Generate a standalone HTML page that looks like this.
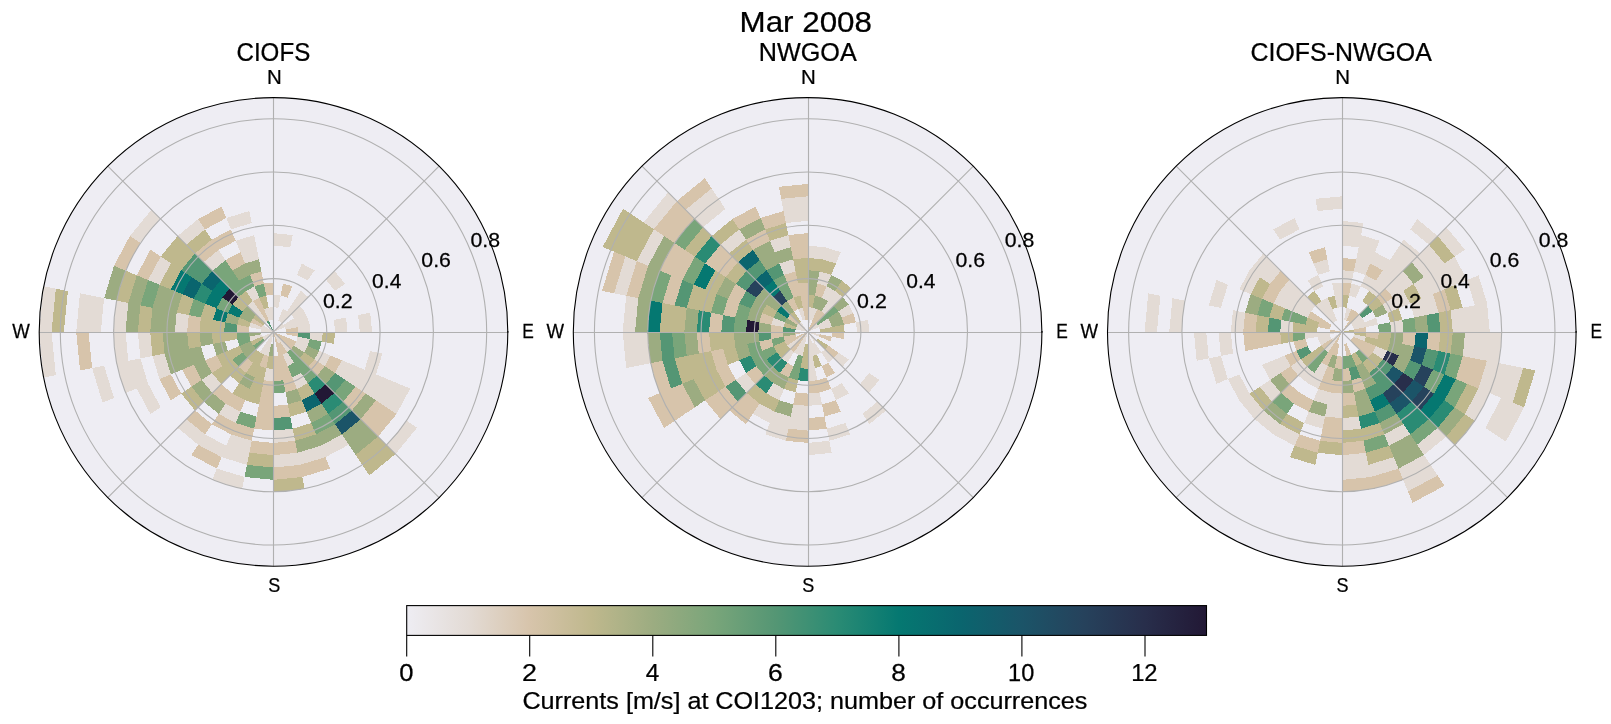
<!DOCTYPE html><html><head><meta charset="utf-8"><title>Mar 2008</title>
<style>html,body{margin:0;padding:0;background:#fff}body{width:1611px;height:724px;overflow:hidden;position:relative;font-family:"Liberation Sans",sans-serif}svg{position:absolute;left:0;top:0}text{font-family:"Liberation Sans",sans-serif;fill:#000;stroke:#000;stroke-width:0.25px;will-change:transform}</style></head><body>
<svg width="1611" height="724" viewBox="0 0 1611 724">
<rect width="1611" height="724" fill="#fff"/>
<clipPath id="c0"><circle cx="273.5" cy="331.9" r="234.3"/></clipPath>
<circle cx="273.5" cy="331.9" r="234.3" fill="#eeedf3"/>
<g clip-path="url(#c0)" shape-rendering="crispEdges">
<path fill="#e3dbd5" d="M273.5 307.2L273.5 294.9L280.7 295.6L278.3 307.7ZM273.5 245.6L273.5 233.2L292.7 235.1L290.3 247.2ZM278.2 320.5L282.9 309.1L287.2 311.4L280.3 321.6ZM297.1 274.9L301.8 263.5L314.6 270.4L307.7 280.6ZM280.3 321.6L287.2 311.4L290.9 314.5L282.2 323.2ZM287.2 311.4L294.0 301.1L299.6 305.7L290.9 314.5ZM294.0 301.1L300.9 290.9L308.3 297.0L299.6 305.7ZM282.2 323.2L283.7 325.0L273.5 331.9ZM290.9 314.5L299.6 305.7L304.2 311.3L294.0 318.2ZM325.8 279.6L334.5 270.9L345.2 283.9L335.0 290.8ZM283.7 325.0L284.9 327.2L273.5 331.9ZM283.7 325.0L294.0 318.2L296.3 322.5L284.9 327.2ZM294.0 318.2L304.2 311.3L307.6 317.7L296.3 322.5ZM284.9 327.2L296.3 322.5L297.7 327.1L285.6 329.5ZM296.3 322.5L307.6 317.7L309.8 324.7L297.7 327.1ZM297.7 327.1L309.8 324.7L310.5 331.9L298.1 331.9ZM333.9 319.9L346.0 317.5L347.5 331.9L335.1 331.9ZM358.1 315.1L370.2 312.7L372.1 331.9L359.8 331.9ZM310.5 331.9L322.8 331.9L321.8 341.5L309.8 339.1ZM297.7 336.7L309.8 339.1L307.6 346.1L296.3 341.3ZM370.2 351.1L382.3 353.6L376.0 374.4L364.6 369.7ZM296.3 341.3L307.6 346.1L304.2 352.5L294.0 345.6ZM319.0 350.8L330.4 355.5L324.7 366.2L314.5 359.3ZM341.8 360.2L353.2 364.9L345.2 379.9L335.0 373.0ZM353.2 364.9L364.6 369.7L355.5 386.7L345.2 379.9ZM364.6 369.7L376.0 374.4L365.7 393.6L355.5 386.7ZM376.0 374.4L387.4 379.1L376.0 400.4L365.7 393.6ZM387.4 379.1L398.8 383.8L386.3 407.3L376.0 400.4ZM398.8 383.8L410.2 388.5L396.5 414.1L386.3 407.3ZM406.8 421.0L417.0 427.8L395.5 454.0L386.8 445.3ZM282.2 340.6L280.3 342.2L273.5 331.9ZM282.2 340.6L290.9 349.3L287.2 352.4L280.3 342.2ZM280.3 342.2L278.2 343.3L273.5 331.9ZM287.2 352.4L294.0 362.7L287.6 366.1L282.9 354.7ZM300.9 372.9L307.7 383.2L297.1 388.9L292.3 377.5ZM342.0 434.4L348.8 444.7L325.4 457.2L320.7 445.8ZM320.7 445.8L325.4 457.2L299.9 464.9L297.5 452.8ZM292.7 428.7L295.1 440.8L273.5 442.9L273.5 430.6ZM297.5 452.8L299.9 464.9L273.5 467.5L273.5 455.2ZM273.5 368.9L273.5 381.2L263.8 380.3L266.3 368.2ZM271.1 344.0L268.8 343.3L273.5 331.9ZM271.1 344.0L268.7 356.1L264.0 354.7L268.8 343.3ZM251.8 440.8L249.4 452.8L226.3 445.8L231.0 434.4ZM249.4 452.8L247.0 464.9L221.6 457.2L226.3 445.8ZM244.6 477.0L242.2 489.1L212.1 480.0L216.8 468.6ZM268.8 343.3L266.6 342.2L273.5 331.9ZM268.8 343.3L264.0 354.7L259.8 352.4L266.6 342.2ZM240.4 411.7L235.7 423.0L218.7 413.9L225.5 403.7ZM226.3 445.8L221.6 457.2L198.1 444.7L205.0 434.4ZM205.0 434.4L198.1 444.7L177.6 427.8L186.3 419.1ZM264.8 340.6L263.2 338.8L273.5 331.9ZM221.2 384.2L212.4 392.9L201.7 379.9L212.0 373.0ZM263.2 338.8L262.1 336.6L273.5 331.9ZM160.7 407.3L150.4 414.1L136.8 388.5L148.1 383.8ZM262.1 336.6L250.7 341.3L249.3 336.7L261.4 334.3ZM170.9 374.4L159.5 379.1L152.5 356.0L164.6 353.6ZM148.1 383.8L136.8 388.5L128.3 360.8L140.4 358.4ZM136.8 388.5L125.4 393.2L116.2 363.2L128.3 360.8ZM114.0 398.0L102.6 402.7L92.1 368.0L104.1 365.6ZM152.5 356.0L140.4 358.4L137.8 331.9L150.2 331.9ZM128.3 360.8L116.2 363.2L113.2 331.9L125.5 331.9ZM55.8 375.2L43.7 377.6L39.2 331.9L51.5 331.9ZM261.1 331.9L261.4 329.5L273.5 331.9ZM187.1 331.9L174.8 331.9L176.7 312.7L188.8 315.1ZM125.5 331.9L113.2 331.9L116.2 300.6L128.3 303.0ZM100.8 331.9L88.5 331.9L92.1 295.8L104.1 298.2ZM88.5 331.9L76.2 331.9L80.0 293.4L92.1 295.8ZM51.5 331.9L39.2 331.9L43.7 286.2L55.8 288.6ZM261.4 329.5L262.1 327.2L273.5 331.9ZM261.4 329.5L249.3 327.1L250.7 322.5L262.1 327.2ZM262.1 327.2L263.2 325.0L273.5 331.9ZM159.5 284.7L148.1 280.0L160.7 256.5L170.9 263.4ZM140.2 242.8L129.9 236.0L151.4 209.8L160.1 218.5ZM264.8 323.2L256.0 314.5L259.8 311.4L266.6 321.6ZM256.0 314.5L247.3 305.7L252.9 301.1L259.8 311.4ZM212.4 270.9L203.7 262.1L218.7 249.9L225.5 260.1ZM186.3 244.7L177.6 236.0L198.1 219.1L205.0 229.4ZM252.9 301.1L246.1 290.9L254.6 286.3L259.3 297.7ZM268.8 320.5L264.0 309.1L268.7 307.7L271.1 319.8ZM245.2 263.5L240.4 252.1L256.6 247.2L259.0 259.3ZM240.4 252.1L235.7 240.8L254.2 235.1L256.6 247.2ZM231.0 229.4L226.3 218.0L249.4 211.0L251.8 223.0ZM271.1 319.8L268.7 307.7L273.5 307.2L273.5 319.6Z"/>
<path fill="#d7c4ab" d="M280.7 295.6L283.1 283.5L292.3 286.3L287.6 297.7ZM285.6 329.5L297.7 327.1L298.1 331.9L285.8 331.9ZM285.8 331.9L298.1 331.9L297.7 336.7L285.6 334.3ZM284.9 336.6L283.7 338.8L273.5 331.9ZM284.9 336.6L296.3 341.3L294.0 345.6L283.7 338.8ZM330.4 355.5L341.8 360.2L335.0 373.0L324.7 366.2ZM283.7 338.8L282.2 340.6L273.5 331.9ZM283.7 338.8L294.0 345.6L290.9 349.3L282.2 340.6ZM314.5 359.3L324.7 366.2L317.1 375.5L308.3 366.8ZM355.5 386.7L365.7 393.6L351.9 410.4L343.2 401.7ZM376.0 400.4L386.3 407.3L369.4 427.8L360.7 419.1ZM386.3 407.3L396.5 414.1L378.1 436.5L369.4 427.8ZM280.3 342.2L287.2 352.4L282.9 354.7L278.2 343.3ZM278.2 343.3L275.9 344.0L273.5 331.9ZM278.2 343.3L282.9 354.7L278.3 356.1L275.9 344.0ZM282.9 354.7L287.6 366.1L280.7 368.2L278.3 356.1ZM287.6 366.1L292.3 377.5L283.1 380.3L280.7 368.2ZM292.3 377.5L297.1 388.9L285.5 392.4L283.1 380.3ZM325.4 457.2L330.1 468.6L302.3 477.0L299.9 464.9ZM278.3 356.1L280.7 368.2L273.5 368.9L273.5 356.6ZM280.7 368.2L283.1 380.3L273.5 381.2L273.5 368.9ZM287.9 404.5L290.3 416.6L273.5 418.2L273.5 405.9ZM295.1 440.8L297.5 452.8L273.5 455.2L273.5 442.9ZM299.9 464.9L302.3 477.0L273.5 479.9L273.5 467.5ZM273.5 381.2L273.5 393.6L261.4 392.4L263.8 380.3ZM273.5 393.6L273.5 405.9L259.0 404.5L261.4 392.4ZM273.5 405.9L273.5 418.2L256.6 416.6L259.0 404.5ZM273.5 418.2L273.5 430.6L254.2 428.7L256.6 416.6ZM273.5 442.9L273.5 455.2L249.4 452.8L251.8 440.8ZM268.7 356.1L266.3 368.2L259.3 366.1L264.0 354.7ZM254.2 428.7L251.8 440.8L231.0 434.4L235.7 423.0ZM245.2 400.3L240.4 411.7L225.5 403.7L232.4 393.4ZM235.7 423.0L231.0 434.4L211.8 424.2L218.7 413.9ZM221.6 457.2L216.8 468.6L191.3 454.9L198.1 444.7ZM252.9 362.7L246.1 372.9L238.6 366.8L247.3 358.1ZM232.4 393.4L225.5 403.7L212.4 392.9L221.2 384.2ZM211.8 424.2L205.0 434.4L186.3 419.1L195.0 410.4ZM222.2 366.2L212.0 373.0L205.1 360.2L216.5 355.5ZM201.7 379.9L191.4 386.7L182.3 369.7L193.7 364.9ZM181.2 393.6L170.9 400.4L159.5 379.1L170.9 374.4ZM92.1 368.0L80.0 370.4L76.2 331.9L88.5 331.9ZM248.8 331.9L236.5 331.9L237.2 324.7L249.3 327.1ZM199.5 331.9L187.1 331.9L188.8 315.1L200.9 317.5ZM262.1 327.2L250.7 322.5L253.0 318.2L263.2 325.0ZM148.1 280.0L136.8 275.3L150.4 249.7L160.7 256.5ZM125.4 270.6L114.0 265.8L129.9 236.0L140.2 242.8ZM203.7 262.1L195.0 253.4L211.8 239.6L218.7 249.9ZM266.6 321.6L259.8 311.4L264.0 309.1L268.8 320.5ZM259.8 311.4L252.9 301.1L259.3 297.7L264.0 309.1ZM232.4 270.4L225.5 260.1L240.4 252.1L245.2 263.5ZM218.7 249.9L211.8 239.6L231.0 229.4L235.7 240.8ZM205.0 229.4L198.1 219.1L221.6 206.6L226.3 218.0ZM254.6 286.3L249.9 274.9L261.4 271.4L263.8 283.5ZM266.3 295.6L263.8 283.5L273.5 282.6L273.5 294.9Z"/>
<path fill="#bfb88d" d="M322.8 331.9L335.1 331.9L333.9 343.9L321.8 341.5ZM304.2 352.5L314.5 359.3L308.3 366.8L299.6 358.1ZM378.1 436.5L386.8 445.3L362.5 465.2L355.7 454.9ZM386.8 445.3L395.5 454.0L369.4 475.4L362.5 465.2ZM307.7 383.2L314.6 393.4L301.8 400.3L297.1 388.9ZM301.8 400.3L306.5 411.7L290.3 416.6L287.9 404.5ZM311.2 423.0L315.9 434.4L295.1 440.8L292.7 428.7ZM302.3 477.0L304.7 489.1L273.5 492.2L273.5 479.9ZM273.5 356.6L273.5 368.9L266.3 368.2L268.7 356.1ZM273.5 455.2L273.5 467.5L247.0 464.9L249.4 452.8ZM266.3 368.2L263.8 380.3L254.6 377.5L259.3 366.1ZM263.8 380.3L261.4 392.4L249.9 388.9L254.6 377.5ZM261.4 392.4L259.0 404.5L245.2 400.3L249.9 388.9ZM264.0 354.7L259.3 366.1L252.9 362.7L259.8 352.4ZM259.3 366.1L254.6 377.5L246.1 372.9L252.9 362.7ZM249.9 388.9L245.2 400.3L232.4 393.4L239.2 383.2ZM259.8 352.4L252.9 362.7L247.3 358.1L256.0 349.3ZM246.1 372.9L239.2 383.2L229.9 375.5L238.6 366.8ZM238.6 366.8L229.9 375.5L222.2 366.2L232.5 359.3ZM229.9 375.5L221.2 384.2L212.0 373.0L222.2 366.2ZM203.7 401.7L195.0 410.4L181.2 393.6L191.4 386.7ZM263.2 338.8L253.0 345.6L250.7 341.3L262.1 336.6ZM242.7 352.5L232.5 359.3L227.9 350.8L239.3 346.1ZM232.5 359.3L222.2 366.2L216.5 355.5L227.9 350.8ZM237.2 339.1L225.1 341.5L224.1 331.9L236.5 331.9ZM225.1 341.5L213.0 343.9L211.8 331.9L224.1 331.9ZM200.9 346.3L188.8 348.7L187.1 331.9L199.5 331.9ZM164.6 353.6L152.5 356.0L150.2 331.9L162.5 331.9ZM224.1 331.9L211.8 331.9L213.0 319.9L225.1 322.3ZM211.8 331.9L199.5 331.9L200.9 317.5L213.0 319.9ZM150.2 331.9L137.8 331.9L140.4 305.4L152.5 307.8ZM63.8 331.9L51.5 331.9L55.8 288.6L67.9 291.0ZM249.3 327.1L237.2 324.7L239.3 317.7L250.7 322.5ZM213.0 319.9L200.9 317.5L205.1 303.6L216.5 308.3ZM188.8 315.1L176.7 312.7L182.3 294.1L193.7 298.9ZM128.3 303.0L116.2 300.6L125.4 270.6L136.8 275.3ZM170.9 289.4L159.5 284.7L170.9 263.4L181.2 270.2ZM263.2 325.0L253.0 318.2L256.0 314.5L264.8 323.2ZM242.7 311.3L232.5 304.5L238.6 297.0L247.3 305.7ZM181.2 270.2L170.9 263.4L186.3 244.7L195.0 253.4ZM170.9 263.4L160.7 256.5L177.6 236.0L186.3 244.7ZM247.3 305.7L238.6 297.0L246.1 290.9L252.9 301.1ZM195.0 253.4L186.3 244.7L205.0 229.4L211.8 239.6ZM264.0 309.1L259.3 297.7L266.3 295.6L268.7 307.7Z"/>
<path fill="#9cac81" d="M307.6 346.1L319.0 350.8L314.5 359.3L304.2 352.5ZM294.0 345.6L304.2 352.5L299.6 358.1L290.9 349.3ZM324.7 366.2L335.0 373.0L325.8 384.2L317.1 375.5ZM365.7 393.6L376.0 400.4L360.7 419.1L351.9 410.4ZM360.7 419.1L369.4 427.8L348.8 444.7L342.0 434.4ZM369.4 427.8L378.1 436.5L355.7 454.9L348.8 444.7ZM321.4 403.7L328.3 413.9L311.2 423.0L306.5 411.7ZM335.1 424.2L342.0 434.4L320.7 445.8L315.9 434.4ZM297.1 388.9L301.8 400.3L287.9 404.5L285.5 392.4ZM315.9 434.4L320.7 445.8L297.5 452.8L295.1 440.8ZM273.5 344.2L273.5 356.6L268.7 356.1L271.1 344.0ZM254.6 377.5L249.9 388.9L239.2 383.2L246.1 372.9ZM225.5 403.7L218.7 413.9L203.7 401.7L212.4 392.9ZM256.0 349.3L247.3 358.1L242.7 352.5L253.0 345.6ZM212.4 392.9L203.7 401.7L191.4 386.7L201.7 379.9ZM253.0 345.6L242.7 352.5L239.3 346.1L250.7 341.3ZM212.0 373.0L201.7 379.9L193.7 364.9L205.1 360.2ZM227.9 350.8L216.5 355.5L213.0 343.9L225.1 341.5ZM205.1 360.2L193.7 364.9L188.8 348.7L200.9 346.3ZM193.7 364.9L182.3 369.7L176.7 351.1L188.8 348.7ZM182.3 369.7L170.9 374.4L164.6 353.6L176.7 351.1ZM261.4 334.3L249.3 336.7L248.8 331.9L261.1 331.9ZM213.0 343.9L200.9 346.3L199.5 331.9L211.8 331.9ZM188.8 348.7L176.7 351.1L174.8 331.9L187.1 331.9ZM176.7 351.1L164.6 353.6L162.5 331.9L174.8 331.9ZM174.8 331.9L162.5 331.9L164.6 310.2L176.7 312.7ZM162.5 331.9L150.2 331.9L152.5 307.8L164.6 310.2ZM137.8 331.9L125.5 331.9L128.3 303.0L140.4 305.4ZM237.2 324.7L225.1 322.3L227.9 313.0L239.3 317.7ZM176.7 312.7L164.6 310.2L170.9 289.4L182.3 294.1ZM164.6 310.2L152.5 307.8L159.5 284.7L170.9 289.4ZM140.4 305.4L128.3 303.0L136.8 275.3L148.1 280.0ZM116.2 300.6L104.1 298.2L114.0 265.8L125.4 270.6ZM250.7 322.5L239.3 317.7L242.7 311.3L253.0 318.2ZM253.0 318.2L242.7 311.3L247.3 305.7L256.0 314.5ZM239.2 280.6L232.4 270.4L245.2 263.5L249.9 274.9ZM249.9 274.9L245.2 263.5L259.0 259.3L261.4 271.4Z"/>
<path fill="#79a57a" d="M309.8 339.1L321.8 341.5L319.0 350.8L307.6 346.1ZM345.2 379.9L355.5 386.7L343.2 401.7L334.5 392.9ZM290.9 349.3L299.6 358.1L294.0 362.7L287.2 352.4ZM299.6 358.1L308.3 366.8L300.9 372.9L294.0 362.7ZM308.3 366.8L317.1 375.5L307.7 383.2L300.9 372.9ZM294.0 362.7L300.9 372.9L292.3 377.5L287.6 366.1ZM328.3 413.9L335.1 424.2L315.9 434.4L311.2 423.0ZM283.1 380.3L285.5 392.4L273.5 393.6L273.5 381.2ZM273.5 467.5L273.5 479.9L244.6 477.0L247.0 464.9ZM256.6 416.6L254.2 428.7L235.7 423.0L240.4 411.7ZM264.8 340.6L256.0 349.3L253.0 345.6L263.2 338.8ZM247.3 358.1L238.6 366.8L232.5 359.3L242.7 352.5ZM250.7 341.3L239.3 346.1L237.2 339.1L249.3 336.7ZM249.3 336.7L237.2 339.1L236.5 331.9L248.8 331.9ZM200.9 317.5L188.8 315.1L193.7 298.9L205.1 303.6ZM152.5 307.8L140.4 305.4L148.1 280.0L159.5 284.7ZM227.9 313.0L216.5 308.3L222.2 297.6L232.5 304.5ZM238.6 297.0L229.9 288.3L239.2 280.6L246.1 290.9ZM229.9 288.3L221.2 279.6L232.4 270.4L239.2 280.6ZM221.2 279.6L212.4 270.9L225.5 260.1L232.4 270.4ZM246.1 290.9L239.2 280.6L249.9 274.9L254.6 286.3ZM259.3 297.7L254.6 286.3L263.8 283.5L266.3 295.6Z"/>
<path fill="#549674" d="M298.1 331.9L310.5 331.9L309.8 339.1L297.7 336.7ZM335.0 373.0L345.2 379.9L334.5 392.9L325.8 384.2ZM343.2 401.7L351.9 410.4L335.1 424.2L328.3 413.9ZM290.3 416.6L292.7 428.7L273.5 430.6L273.5 418.2ZM236.5 331.9L224.1 331.9L225.1 322.3L237.2 324.7ZM201.7 283.9L191.4 277.1L203.7 262.1L212.4 270.9ZM191.4 277.1L181.2 270.2L195.0 253.4L203.7 262.1ZM266.6 321.6L268.8 320.5L273.5 331.9Z"/>
<path fill="#2a8b74" d="M317.1 375.5L325.8 384.2L314.6 393.4L307.7 383.2ZM334.5 392.9L343.2 401.7L328.3 413.9L321.4 403.7ZM205.1 303.6L193.7 298.9L201.7 283.9L212.0 290.8Z"/>
<path fill="#057871" d="M225.1 322.3L213.0 319.9L216.5 308.3L227.9 313.0ZM239.3 317.7L227.9 313.0L232.5 304.5L242.7 311.3ZM216.5 308.3L205.1 303.6L212.0 290.8L222.2 297.6ZM182.3 294.1L170.9 289.4L181.2 270.2L191.4 277.1ZM222.2 297.6L212.0 290.8L221.2 279.6L229.9 288.3Z"/>
<path fill="#0a656e" d="M314.6 393.4L321.4 403.7L306.5 411.7L301.8 400.3ZM193.7 298.9L182.3 294.1L191.4 277.1L201.7 283.9ZM212.0 290.8L201.7 283.9L212.4 270.9L221.2 279.6Z"/>
<path fill="#1b5468" d="M351.9 410.4L360.7 419.1L342.0 434.4L335.1 424.2Z"/>
<path fill="#221835" d="M325.8 384.2L334.5 392.9L321.4 403.7L314.6 393.4ZM232.5 304.5L222.2 297.6L229.9 288.3L238.6 297.0Z"/>
</g>
<g stroke="#b0b0b0" stroke-width="1.1" fill="none">
<circle cx="273.5" cy="331.9" r="53.29"/>
<circle cx="273.5" cy="331.9" r="106.58"/>
<circle cx="273.5" cy="331.9" r="159.88"/>
<circle cx="273.5" cy="331.9" r="213.17"/>
<path d="M273.5 331.9L439.1 166.2"/>
<path d="M273.5 331.9L439.1 497.6"/>
<path d="M273.5 331.9L107.8 497.6"/>
<path d="M273.5 331.9L107.8 166.2"/>
<path d="M273.5 97.6V566.2M39.2 332.5H507.8"/>
</g>
<circle cx="273.5" cy="331.9" r="234.3" fill="none" stroke="#000" stroke-width="1.1"/>
<rect x="507.0" y="331.3" width="1.6" height="1.2" fill="#000"/>
<clipPath id="c1"><circle cx="807.6" cy="331.9" r="234.3"/></clipPath>
<circle cx="807.6" cy="331.9" r="234.3" fill="#eeedf3"/>
<g clip-path="url(#c1)" shape-rendering="crispEdges">
<path fill="#e3dbd5" d="M807.6 319.6L810.1 319.8L807.6 331.9ZM807.6 319.6L807.6 307.2L812.5 307.7L810.1 319.8ZM807.6 257.9L807.6 245.6L824.5 247.2L822.1 259.3ZM810.1 319.8L812.5 307.7L817.1 309.1L812.4 320.5ZM817.3 283.5L819.7 271.4L831.2 274.9L826.5 286.3ZM822.1 259.3L824.5 247.2L840.7 252.1L836.0 263.5ZM821.8 297.7L826.5 286.3L835.1 290.9L828.2 301.1ZM821.4 311.4L828.2 301.1L833.8 305.7L825.1 314.5ZM828.2 301.1L835.1 290.9L842.5 297.0L833.8 305.7ZM816.4 323.2L817.9 325.0L807.6 331.9ZM817.9 325.0L819.0 327.2L807.6 331.9ZM817.9 325.0L828.2 318.2L830.4 322.5L819.0 327.2ZM838.4 311.3L848.7 304.5L853.2 313.0L841.8 317.7ZM819.0 327.2L830.4 322.5L831.8 327.1L819.7 329.5ZM856.0 322.3L868.1 319.9L869.3 331.9L857.0 331.9ZM819.7 334.3L819.0 336.6L807.6 331.9ZM838.4 352.5L848.7 359.3L842.5 366.8L833.8 358.1ZM869.2 373.0L879.4 379.9L868.7 392.9L860.0 384.2ZM816.4 340.6L814.5 342.2L807.6 331.9ZM825.1 349.3L833.8 358.1L828.2 362.7L821.4 352.4ZM877.4 401.7L886.1 410.4L869.3 424.2L862.5 413.9ZM814.5 342.2L821.4 352.4L817.1 354.7L812.4 343.3ZM841.9 383.2L848.8 393.4L836.0 400.3L831.2 388.9ZM812.4 343.3L810.1 344.0L807.6 331.9ZM812.4 343.3L817.1 354.7L812.5 356.1L810.1 344.0ZM845.4 423.0L850.1 434.4L829.3 440.8L826.9 428.7ZM810.1 344.0L807.6 344.2L807.6 331.9ZM810.1 344.0L812.5 356.1L807.6 356.6L807.6 344.2ZM812.5 356.1L814.9 368.2L807.6 368.9L807.6 356.6ZM814.9 368.2L817.3 380.3L807.6 381.2L807.6 368.9ZM819.7 392.4L822.1 404.5L807.6 405.9L807.6 393.6ZM829.3 440.8L831.7 452.8L807.6 455.2L807.6 442.9ZM807.6 405.9L807.6 418.2L790.8 416.6L793.2 404.5ZM807.6 418.2L807.6 430.6L788.4 428.7L790.8 416.6ZM805.2 344.0L802.9 343.3L807.6 331.9ZM805.2 344.0L802.8 356.1L798.2 354.7L802.9 343.3ZM790.8 416.6L788.4 428.7L769.9 423.0L774.6 411.7ZM788.4 428.7L786.0 440.8L765.2 434.4L769.9 423.0ZM802.9 343.3L800.8 342.2L807.6 331.9ZM802.9 343.3L798.2 354.7L793.9 352.4L800.8 342.2ZM784.1 388.9L779.3 400.3L766.5 393.4L773.4 383.2ZM774.6 411.7L769.9 423.0L752.8 413.9L759.7 403.7ZM793.9 352.4L787.1 362.7L781.5 358.1L790.2 349.3ZM798.9 340.6L797.4 338.8L807.6 331.9ZM798.9 340.6L790.2 349.3L787.1 345.6L797.4 338.8ZM755.3 384.2L746.6 392.9L735.9 379.9L746.1 373.0ZM650.4 363.2L638.3 365.6L635.0 331.9L647.3 331.9ZM638.3 365.6L626.2 368.0L622.7 331.9L635.0 331.9ZM635.0 331.9L622.7 331.9L626.2 295.8L638.3 298.2ZM795.6 329.5L796.3 327.2L807.6 331.9ZM783.5 327.1L771.4 324.7L773.5 317.7L784.9 322.5ZM626.2 295.8L614.1 293.4L625.4 256.4L636.8 261.1ZM796.3 327.2L797.4 325.0L807.6 331.9ZM648.1 265.8L636.8 261.1L653.9 229.1L664.1 236.0ZM797.4 325.0L798.9 323.2L807.6 331.9ZM653.9 229.1L643.6 222.3L668.1 192.4L676.9 201.1ZM798.9 323.2L800.8 321.6L807.6 331.9ZM729.2 253.4L720.5 244.7L739.1 229.4L746.0 239.6ZM703.0 227.3L694.3 218.5L718.6 198.6L725.4 208.9ZM694.3 218.5L685.6 209.8L711.7 188.4L718.6 198.6ZM802.9 320.5L798.2 309.1L802.8 307.7L805.2 319.8ZM784.1 274.9L779.3 263.5L793.2 259.3L795.6 271.4ZM774.6 252.1L769.9 240.8L788.4 235.1L790.8 247.2ZM786.0 223.0L783.6 211.0L807.6 208.6L807.6 220.9ZM783.6 211.0L781.2 198.9L807.6 196.3L807.6 208.6Z"/>
<path fill="#d7c4ab" d="M814.9 295.6L817.3 283.5L826.5 286.3L821.8 297.7ZM812.4 320.5L814.5 321.6L807.6 331.9ZM812.4 320.5L817.1 309.1L821.4 311.4L814.5 321.6ZM814.5 321.6L816.4 323.2L807.6 331.9ZM814.5 321.6L821.4 311.4L825.1 314.5L816.4 323.2ZM841.8 317.7L853.2 313.0L856.0 322.3L843.9 324.7ZM832.3 331.9L844.6 331.9L843.9 339.1L831.8 336.7ZM819.7 334.3L831.8 336.7L830.4 341.3L819.0 336.6ZM828.2 345.6L838.4 352.5L833.8 358.1L825.1 349.3ZM828.2 362.7L835.1 372.9L826.5 377.5L821.8 366.1ZM826.5 377.5L831.2 388.9L819.7 392.4L817.3 380.3ZM836.0 400.3L840.7 411.7L824.5 416.6L822.1 404.5ZM817.3 380.3L819.7 392.4L807.6 393.6L807.6 381.2ZM824.5 416.6L826.9 428.7L807.6 430.6L807.6 418.2ZM807.6 393.6L807.6 405.9L793.2 404.5L795.6 392.4ZM807.6 430.6L807.6 442.9L786.0 440.8L788.4 428.7ZM793.5 366.1L788.8 377.5L780.2 372.9L787.1 362.7ZM800.8 342.2L798.9 340.6L807.6 331.9ZM800.8 342.2L793.9 352.4L790.2 349.3L798.9 340.6ZM759.7 403.7L752.8 413.9L737.9 401.7L746.6 392.9ZM752.8 413.9L746.0 424.2L729.2 410.4L737.9 401.7ZM764.1 375.5L755.3 384.2L746.1 373.0L756.4 366.2ZM737.9 401.7L729.2 410.4L715.4 393.6L725.6 386.7ZM729.2 410.4L720.5 419.1L705.1 400.4L715.4 393.6ZM797.4 338.8L796.3 336.6L807.6 331.9ZM797.4 338.8L787.1 345.6L784.9 341.3L796.3 336.6ZM735.9 379.9L725.6 386.7L716.5 369.7L727.9 364.9ZM694.9 407.3L684.6 414.1L670.9 388.5L682.3 383.8ZM684.6 414.1L674.4 421.0L659.5 393.2L670.9 388.5ZM674.4 421.0L664.1 427.8L648.1 398.0L659.5 393.2ZM796.3 336.6L784.9 341.3L783.5 336.7L795.6 334.3ZM773.5 346.1L762.1 350.8L759.3 341.5L771.4 339.1ZM727.9 364.9L716.5 369.7L710.9 351.1L723.0 348.7ZM670.9 388.5L659.5 393.2L650.4 363.2L662.5 360.8ZM795.6 334.3L795.3 331.9L807.6 331.9ZM783.5 336.7L771.4 339.1L770.7 331.9L783.0 331.9ZM710.9 351.1L698.8 353.6L696.7 331.9L709.0 331.9ZM783.0 331.9L770.7 331.9L771.4 324.7L783.5 327.1ZM721.3 331.9L709.0 331.9L710.9 312.7L723.0 315.1ZM771.4 324.7L759.3 322.3L762.1 313.0L773.5 317.7ZM735.1 317.5L723.0 315.1L727.9 298.9L739.3 303.6ZM674.6 305.4L662.5 303.0L670.9 275.3L682.3 280.0ZM638.3 298.2L626.2 295.8L636.8 261.1L648.1 265.8ZM614.1 293.4L602.0 291.0L614.0 251.7L625.4 256.4ZM739.3 303.6L727.9 298.9L735.9 283.9L746.1 290.8ZM682.3 280.0L670.9 275.3L684.6 249.7L694.9 256.5ZM670.9 275.3L659.5 270.6L674.4 242.8L684.6 249.7ZM797.4 325.0L787.1 318.2L790.2 314.5L798.9 323.2ZM725.6 277.1L715.4 270.2L729.2 253.4L737.9 262.1ZM715.4 270.2L705.1 263.4L720.5 244.7L729.2 253.4ZM674.4 242.8L664.1 236.0L685.6 209.8L694.3 218.5ZM664.1 236.0L653.9 229.1L676.9 201.1L685.6 209.8ZM685.6 209.8L676.9 201.1L704.9 178.1L711.7 188.4ZM793.9 311.4L787.1 301.1L793.5 297.7L798.2 309.1ZM752.8 249.9L746.0 239.6L765.2 229.4L769.9 240.8ZM739.1 229.4L732.3 219.1L755.7 206.6L760.5 218.0ZM793.5 297.7L788.8 286.3L798.0 283.5L800.4 295.6ZM788.8 286.3L784.1 274.9L795.6 271.4L798.0 283.5ZM765.2 229.4L760.5 218.0L783.6 211.0L786.0 223.0ZM805.2 319.8L802.8 307.7L807.6 307.2L807.6 319.6ZM802.8 307.7L800.4 295.6L807.6 294.9L807.6 307.2ZM800.4 295.6L798.0 283.5L807.6 282.6L807.6 294.9ZM793.2 259.3L790.8 247.2L807.6 245.6L807.6 257.9ZM790.8 247.2L788.4 235.1L807.6 233.2L807.6 245.6ZM781.2 198.9L778.8 186.8L807.6 183.9L807.6 196.3Z"/>
<path fill="#bfb88d" d="M807.6 307.2L807.6 294.9L814.9 295.6L812.5 307.7ZM807.6 270.2L807.6 257.9L822.1 259.3L819.7 271.4ZM819.7 271.4L822.1 259.3L836.0 263.5L831.2 274.9ZM835.1 290.9L841.9 280.6L851.2 288.3L842.5 297.0ZM819.7 329.5L831.8 327.1L832.3 331.9L820.0 331.9ZM831.8 327.1L843.9 324.7L844.6 331.9L832.3 331.9ZM817.9 338.8L828.2 345.6L825.1 349.3L816.4 340.6ZM817.1 354.7L821.8 366.1L814.9 368.2L812.5 356.1ZM807.6 344.2L807.6 356.6L802.8 356.1L805.2 344.0ZM807.6 356.6L807.6 368.9L800.4 368.2L802.8 356.1ZM798.0 380.3L795.6 392.4L784.1 388.9L788.8 377.5ZM779.3 400.3L774.6 411.7L759.7 403.7L766.5 393.4ZM766.5 393.4L759.7 403.7L746.6 392.9L755.3 384.2ZM790.2 349.3L781.5 358.1L776.9 352.5L787.1 345.6ZM787.1 345.6L776.9 352.5L773.5 346.1L784.9 341.3ZM725.6 386.7L715.4 393.6L705.1 374.4L716.5 369.7ZM715.4 393.6L705.1 400.4L693.7 379.1L705.1 374.4ZM739.3 360.2L727.9 364.9L723.0 348.7L735.1 346.3ZM716.5 369.7L705.1 374.4L698.8 353.6L710.9 351.1ZM705.1 374.4L693.7 379.1L686.7 356.0L698.8 353.6ZM693.7 379.1L682.3 383.8L674.6 358.4L686.7 356.0ZM735.1 346.3L723.0 348.7L721.3 331.9L733.7 331.9ZM723.0 348.7L710.9 351.1L709.0 331.9L721.3 331.9ZM684.3 331.9L672.0 331.9L674.6 305.4L686.7 307.8ZM672.0 331.9L659.7 331.9L662.5 303.0L674.6 305.4ZM795.6 329.5L783.5 327.1L784.9 322.5L796.3 327.2ZM710.9 312.7L698.8 310.2L705.1 289.4L716.5 294.1ZM698.8 310.2L686.7 307.8L693.7 284.7L705.1 289.4ZM773.5 317.7L762.1 313.0L766.6 304.5L776.9 311.3ZM716.5 294.1L705.1 289.4L715.4 270.2L725.6 277.1ZM636.8 261.1L625.4 256.4L643.6 222.3L653.9 229.1ZM625.4 256.4L614.0 251.7L633.3 215.4L643.6 222.3ZM614.0 251.7L602.6 247.0L623.1 208.6L633.3 215.4ZM735.9 283.9L725.6 277.1L737.9 262.1L746.6 270.9ZM694.9 256.5L684.6 249.7L703.0 227.3L711.7 236.0ZM798.9 323.2L790.2 314.5L793.9 311.4L800.8 321.6ZM737.9 262.1L729.2 253.4L746.0 239.6L752.8 249.9ZM720.5 244.7L711.7 236.0L732.3 219.1L739.1 229.4ZM798.2 309.1L793.5 297.7L800.4 295.6L802.8 307.7ZM769.9 240.8L765.2 229.4L786.0 223.0L788.4 235.1ZM798.0 283.5L795.6 271.4L807.6 270.2L807.6 282.6ZM795.6 271.4L793.2 259.3L807.6 257.9L807.6 270.2Z"/>
<path fill="#9cac81" d="M807.6 294.9L807.6 282.6L817.3 283.5L814.9 295.6ZM807.6 282.6L807.6 270.2L819.7 271.4L817.3 283.5ZM812.5 307.7L814.9 295.6L821.8 297.7L817.1 309.1ZM817.1 309.1L821.8 297.7L828.2 301.1L821.4 311.4ZM826.5 286.3L831.2 274.9L841.9 280.6L835.1 290.9ZM833.8 305.7L842.5 297.0L848.7 304.5L838.4 311.3ZM828.2 318.2L838.4 311.3L841.8 317.7L830.4 322.5ZM830.4 322.5L841.8 317.7L843.9 324.7L831.8 327.1ZM793.2 404.5L790.8 416.6L774.6 411.7L779.3 400.3ZM788.8 377.5L784.1 388.9L773.4 383.2L780.2 372.9ZM780.2 372.9L773.4 383.2L764.1 375.5L772.8 366.8ZM705.1 400.4L694.9 407.3L682.3 383.8L693.7 379.1ZM750.7 355.5L739.3 360.2L735.1 346.3L747.2 343.9ZM795.6 334.3L783.5 336.7L783.0 331.9L795.3 331.9ZM759.3 341.5L747.2 343.9L746.0 331.9L758.3 331.9ZM747.2 343.9L735.1 346.3L733.7 331.9L746.0 331.9ZM698.8 353.6L686.7 356.0L684.3 331.9L696.7 331.9ZM662.5 360.8L650.4 363.2L647.3 331.9L659.7 331.9ZM770.7 331.9L758.3 331.9L759.3 322.3L771.4 324.7ZM696.7 331.9L684.3 331.9L686.7 307.8L698.8 310.2ZM647.3 331.9L635.0 331.9L638.3 298.2L650.4 300.6ZM759.3 322.3L747.2 319.9L750.7 308.3L762.1 313.0ZM650.4 300.6L638.3 298.2L648.1 265.8L659.5 270.6ZM796.3 327.2L784.9 322.5L787.1 318.2L797.4 325.0ZM762.1 313.0L750.7 308.3L756.4 297.6L766.6 304.5ZM727.9 298.9L716.5 294.1L725.6 277.1L735.9 283.9ZM659.5 270.6L648.1 265.8L664.1 236.0L674.4 242.8ZM776.9 311.3L766.6 304.5L772.8 297.0L781.5 305.7ZM766.6 304.5L756.4 297.6L764.1 288.3L772.8 297.0ZM790.2 314.5L781.5 305.7L787.1 301.1L793.9 311.4ZM766.5 270.4L759.7 260.1L774.6 252.1L779.3 263.5ZM759.7 260.1L752.8 249.9L769.9 240.8L774.6 252.1ZM746.0 239.6L739.1 229.4L760.5 218.0L765.2 229.4ZM779.3 263.5L774.6 252.1L790.8 247.2L793.2 259.3Z"/>
<path fill="#79a57a" d="M816.4 323.2L825.1 314.5L828.2 318.2L817.9 325.0ZM825.1 314.5L833.8 305.7L838.4 311.3L828.2 318.2ZM802.8 356.1L800.4 368.2L793.5 366.1L798.2 354.7ZM800.4 368.2L798.0 380.3L788.8 377.5L793.5 366.1ZM772.8 366.8L764.1 375.5L756.4 366.2L766.6 359.3ZM776.9 352.5L766.6 359.3L762.1 350.8L773.5 346.1ZM766.6 359.3L756.4 366.2L750.7 355.5L762.1 350.8ZM784.9 341.3L773.5 346.1L771.4 339.1L783.5 336.7ZM762.1 350.8L750.7 355.5L747.2 343.9L759.3 341.5ZM686.7 356.0L674.6 358.4L672.0 331.9L684.3 331.9ZM746.0 331.9L733.7 331.9L735.1 317.5L747.2 319.9ZM747.2 319.9L735.1 317.5L739.3 303.6L750.7 308.3ZM723.0 315.1L710.9 312.7L716.5 294.1L727.9 298.9ZM662.5 303.0L650.4 300.6L659.5 270.6L670.9 275.3ZM784.9 322.5L773.5 317.7L776.9 311.3L787.1 318.2ZM693.7 284.7L682.3 280.0L694.9 256.5L705.1 263.4ZM684.6 249.7L674.4 242.8L694.3 218.5L703.0 227.3ZM787.1 301.1L780.2 290.9L788.8 286.3L793.5 297.7ZM780.2 290.9L773.4 280.6L784.1 274.9L788.8 286.3Z"/>
<path fill="#549674" d="M746.6 392.9L737.9 401.7L725.6 386.7L735.9 379.9ZM682.3 383.8L670.9 388.5L662.5 360.8L674.6 358.4ZM771.4 339.1L759.3 341.5L758.3 331.9L770.7 331.9ZM674.6 358.4L662.5 360.8L659.7 331.9L672.0 331.9ZM795.3 331.9L783.0 331.9L783.5 327.1L795.6 329.5ZM733.7 331.9L721.3 331.9L723.0 315.1L735.1 317.5ZM686.7 307.8L674.6 305.4L682.3 280.0L693.7 284.7ZM750.7 308.3L739.3 303.6L746.1 290.8L756.4 297.6ZM746.1 290.8L735.9 283.9L746.6 270.9L755.3 279.6ZM755.3 279.6L746.6 270.9L759.7 260.1L766.5 270.4ZM773.4 280.6L766.5 270.4L779.3 263.5L784.1 274.9Z"/>
<path fill="#2a8b74" d="M807.6 368.9L807.6 381.2L798.0 380.3L800.4 368.2ZM787.1 362.7L780.2 372.9L772.8 366.8L781.5 358.1ZM773.4 383.2L766.5 393.4L755.3 384.2L764.1 375.5ZM781.5 358.1L772.8 366.8L766.6 359.3L776.9 352.5ZM756.4 366.2L746.1 373.0L739.3 360.2L750.7 355.5ZM709.0 331.9L696.7 331.9L698.8 310.2L710.9 312.7ZM705.1 263.4L694.9 256.5L711.7 236.0L720.5 244.7Z"/>
<path fill="#057871" d="M659.7 331.9L647.3 331.9L650.4 300.6L662.5 303.0ZM705.1 289.4L693.7 284.7L705.1 263.4L715.4 270.2ZM787.1 318.2L776.9 311.3L781.5 305.7L790.2 314.5ZM772.8 297.0L764.1 288.3L773.4 280.6L780.2 290.9Z"/>
<path fill="#0a656e" d="M764.1 288.3L755.3 279.6L766.5 270.4L773.4 280.6ZM746.6 270.9L737.9 262.1L752.8 249.9L759.7 260.1Z"/>
<path fill="#26425c" d="M756.4 297.6L746.1 290.8L755.3 279.6L764.1 288.3ZM781.5 305.7L772.8 297.0L780.2 290.9L787.1 301.1Z"/>
<path fill="#221835" d="M758.3 331.9L746.0 331.9L747.2 319.9L759.3 322.3Z"/>
</g>
<g stroke="#b0b0b0" stroke-width="1.1" fill="none">
<circle cx="807.6" cy="331.9" r="53.29"/>
<circle cx="807.6" cy="331.9" r="106.58"/>
<circle cx="807.6" cy="331.9" r="159.88"/>
<circle cx="807.6" cy="331.9" r="213.17"/>
<path d="M807.6 331.9L973.3 166.2"/>
<path d="M807.6 331.9L973.3 497.6"/>
<path d="M807.6 331.9L642.0 497.6"/>
<path d="M807.6 331.9L642.0 166.2"/>
<path d="M808.5 97.6V566.2M573.3 332.5H1042.0"/>
</g>
<circle cx="807.6" cy="331.9" r="234.3" fill="none" stroke="#000" stroke-width="1.1"/>
<rect x="1041.2" y="331.3" width="1.6" height="1.2" fill="#000"/>
<clipPath id="c2"><circle cx="1341.8" cy="331.9" r="234.3"/></clipPath>
<circle cx="1341.8" cy="331.9" r="234.3" fill="#eeedf3"/>
<g clip-path="url(#c2)" shape-rendering="crispEdges">
<path fill="#e3dbd5" d="M1341.8 282.6L1341.8 270.2L1353.9 271.4L1351.5 283.5ZM1341.8 245.6L1341.8 233.2L1361.1 235.1L1358.7 247.2ZM1341.8 233.2L1341.8 220.9L1363.5 223.0L1361.1 235.1ZM1344.2 319.8L1346.6 307.7L1351.3 309.1L1346.5 320.5ZM1349.0 295.6L1351.5 283.5L1360.7 286.3L1356.0 297.7ZM1353.9 271.4L1356.3 259.3L1370.1 263.5L1365.4 274.9ZM1356.3 259.3L1358.7 247.2L1374.9 252.1L1370.1 263.5ZM1358.7 247.2L1361.1 235.1L1379.6 240.8L1374.9 252.1ZM1360.7 286.3L1365.4 274.9L1376.1 280.6L1369.2 290.9ZM1370.1 263.5L1374.9 252.1L1389.8 260.1L1382.9 270.4ZM1369.2 290.9L1376.1 280.6L1385.4 288.3L1376.7 297.0ZM1376.1 280.6L1382.9 270.4L1394.1 279.6L1385.4 288.3ZM1382.9 270.4L1389.8 260.1L1402.9 270.9L1394.1 279.6ZM1389.8 260.1L1396.6 249.9L1411.6 262.1L1402.9 270.9ZM1396.6 249.9L1403.5 239.6L1420.3 253.4L1411.6 262.1ZM1410.3 229.4L1417.2 219.1L1437.7 236.0L1429.0 244.7ZM1350.5 323.2L1359.3 314.5L1362.3 318.2L1352.1 325.0ZM1385.4 288.3L1394.1 279.6L1403.3 290.8L1393.1 297.6ZM1394.1 279.6L1402.9 270.9L1413.6 283.9L1403.3 290.8ZM1411.6 262.1L1420.3 253.4L1434.1 270.2L1423.9 277.1ZM1420.3 253.4L1429.0 244.7L1444.4 263.4L1434.1 270.2ZM1437.7 236.0L1446.5 227.3L1464.9 249.7L1454.6 256.5ZM1352.1 325.0L1362.3 318.2L1364.6 322.5L1353.2 327.2ZM1382.8 304.5L1393.1 297.6L1398.8 308.3L1387.4 313.0ZM1393.1 297.6L1403.3 290.8L1410.2 303.6L1398.8 308.3ZM1413.6 283.9L1423.9 277.1L1433.0 294.1L1421.6 298.9ZM1423.9 277.1L1434.1 270.2L1444.4 289.4L1433.0 294.1ZM1434.1 270.2L1444.4 263.4L1455.8 284.7L1444.4 289.4ZM1444.4 263.4L1454.6 256.5L1467.2 280.0L1455.8 284.7ZM1353.2 327.2L1364.6 322.5L1366.0 327.1L1353.9 329.5ZM1364.6 322.5L1376.0 317.7L1378.1 324.7L1366.0 327.1ZM1410.2 303.6L1421.6 298.9L1426.5 315.1L1414.4 317.5ZM1421.6 298.9L1433.0 294.1L1438.6 312.7L1426.5 315.1ZM1467.2 280.0L1478.5 275.3L1487.0 303.0L1474.9 305.4ZM1390.2 322.3L1402.3 319.9L1403.5 331.9L1391.2 331.9ZM1450.7 310.2L1462.8 307.8L1465.1 331.9L1452.8 331.9ZM1462.8 307.8L1474.9 305.4L1477.5 331.9L1465.1 331.9ZM1474.9 305.4L1487.0 303.0L1489.8 331.9L1477.5 331.9ZM1465.1 331.9L1477.5 331.9L1474.9 358.4L1462.8 356.0ZM1477.5 331.9L1489.8 331.9L1487.0 360.8L1474.9 358.4ZM1489.8 331.9L1502.1 331.9L1499.1 363.2L1487.0 360.8ZM1353.9 334.3L1366.0 336.7L1364.6 341.3L1353.2 336.6ZM1487.0 360.8L1499.1 363.2L1489.9 393.2L1478.5 388.5ZM1499.1 363.2L1511.2 365.6L1501.3 398.0L1489.9 393.2ZM1511.2 365.6L1523.2 368.0L1512.7 402.7L1501.3 398.0ZM1376.0 346.1L1387.4 350.8L1382.8 359.3L1372.6 352.5ZM1478.5 388.5L1489.9 393.2L1475.1 421.0L1464.9 414.1ZM1501.3 398.0L1512.7 402.7L1495.6 434.7L1485.4 427.8ZM1512.7 402.7L1524.1 407.4L1505.9 441.5L1495.6 434.7ZM1437.7 427.8L1446.5 436.5L1424.0 454.9L1417.2 444.7ZM1403.5 424.2L1410.3 434.4L1389.0 445.8L1384.3 434.4ZM1424.0 454.9L1430.9 465.2L1403.2 480.0L1398.5 468.6ZM1430.9 465.2L1437.7 475.4L1407.9 491.4L1403.2 480.0ZM1393.7 457.2L1398.5 468.6L1370.7 477.0L1368.3 464.9ZM1358.7 416.6L1361.1 428.7L1341.8 430.6L1341.8 418.2ZM1365.9 452.8L1368.3 464.9L1341.8 467.5L1341.8 455.2ZM1368.3 464.9L1370.7 477.0L1341.8 479.9L1341.8 467.5ZM1341.8 393.6L1341.8 405.9L1327.4 404.5L1329.8 392.4ZM1341.8 405.9L1341.8 418.2L1325.0 416.6L1327.4 404.5ZM1329.8 392.4L1327.4 404.5L1313.5 400.3L1318.2 388.9ZM1325.0 416.6L1322.6 428.7L1304.1 423.0L1308.8 411.7ZM1327.7 366.1L1323.0 377.5L1314.4 372.9L1321.3 362.7ZM1323.0 377.5L1318.2 388.9L1307.6 383.2L1314.4 372.9ZM1299.4 434.4L1294.6 445.8L1273.3 434.4L1280.2 424.2ZM1335.0 342.2L1333.1 340.6L1341.8 331.9ZM1335.0 342.2L1328.1 352.4L1324.4 349.3L1333.1 340.6ZM1314.4 372.9L1307.6 383.2L1298.2 375.5L1307.0 366.8ZM1280.2 424.2L1273.3 434.4L1254.6 419.1L1263.4 410.4ZM1333.1 340.6L1331.6 338.8L1341.8 331.9ZM1307.0 366.8L1298.2 375.5L1290.6 366.2L1300.8 359.3ZM1280.8 392.9L1272.1 401.7L1259.8 386.7L1270.1 379.9ZM1263.4 410.4L1254.6 419.1L1239.3 400.4L1249.6 393.6ZM1331.6 338.8L1321.3 345.6L1319.0 341.3L1330.4 336.6ZM1290.6 366.2L1280.3 373.0L1273.5 360.2L1284.9 355.5ZM1280.3 373.0L1270.1 379.9L1262.1 364.9L1273.5 360.2ZM1249.6 393.6L1239.3 400.4L1227.9 379.1L1239.3 374.4ZM1330.4 336.6L1319.0 341.3L1317.6 336.7L1329.7 334.3ZM1227.9 379.1L1216.5 383.8L1208.8 358.4L1220.9 356.0ZM1329.7 334.3L1329.5 331.9L1341.8 331.9ZM1329.7 334.3L1317.6 336.7L1317.2 331.9L1329.5 331.9ZM1317.6 336.7L1305.5 339.1L1304.8 331.9L1317.2 331.9ZM1233.0 353.6L1220.9 356.0L1218.5 331.9L1230.8 331.9ZM1208.8 358.4L1196.7 360.8L1193.9 331.9L1206.2 331.9ZM1292.5 331.9L1280.2 331.9L1281.4 319.9L1293.5 322.3ZM1243.2 331.9L1230.8 331.9L1233.0 310.2L1245.1 312.7ZM1181.5 331.9L1169.2 331.9L1172.5 298.2L1184.6 300.6ZM1156.9 331.9L1144.5 331.9L1148.3 293.4L1160.4 295.8ZM1220.9 307.8L1208.8 305.4L1216.5 280.0L1227.9 284.7ZM1307.7 317.7L1296.3 313.0L1300.8 304.5L1311.1 311.3ZM1296.3 313.0L1284.9 308.3L1290.6 297.6L1300.8 304.5ZM1284.9 308.3L1273.5 303.6L1280.3 290.8L1290.6 297.6ZM1250.7 294.1L1239.3 289.4L1249.6 270.2L1259.8 277.1ZM1311.1 311.3L1300.8 304.5L1307.0 297.0L1315.7 305.7ZM1300.8 304.5L1290.6 297.6L1298.2 288.3L1307.0 297.0ZM1290.6 297.6L1280.3 290.8L1289.5 279.6L1298.2 288.3ZM1270.1 283.9L1259.8 277.1L1272.1 262.1L1280.8 270.9ZM1259.8 277.1L1249.6 270.2L1263.4 253.4L1272.1 262.1ZM1333.1 323.2L1324.4 314.5L1328.1 311.4L1335.0 321.6ZM1324.4 314.5L1315.7 305.7L1321.3 301.1L1328.1 311.4ZM1335.0 321.6L1328.1 311.4L1332.4 309.1L1337.1 320.5ZM1328.1 311.4L1321.3 301.1L1327.7 297.7L1332.4 309.1ZM1314.4 290.9L1307.6 280.6L1318.2 274.9L1323.0 286.3ZM1280.2 239.6L1273.3 229.4L1294.6 218.0L1299.4 229.4ZM1318.2 274.9L1313.5 263.5L1327.4 259.3L1329.8 271.4ZM1337.0 307.7L1334.6 295.6L1341.8 294.9L1341.8 307.2ZM1334.6 295.6L1332.2 283.5L1341.8 282.6L1341.8 294.9ZM1317.8 211.0L1315.4 198.9L1341.8 196.3L1341.8 208.6Z"/>
<path fill="#d7c4ab" d="M1341.8 294.9L1341.8 282.6L1351.5 283.5L1349.0 295.6ZM1341.8 270.2L1341.8 257.9L1356.3 259.3L1353.9 271.4ZM1346.5 320.5L1351.3 309.1L1355.5 311.4L1348.7 321.6ZM1365.4 274.9L1370.1 263.5L1382.9 270.4L1376.1 280.6ZM1348.7 321.6L1350.5 323.2L1341.8 331.9ZM1348.7 321.6L1355.5 311.4L1359.3 314.5L1350.5 323.2ZM1376.7 297.0L1385.4 288.3L1393.1 297.6L1382.8 304.5ZM1433.0 294.1L1444.4 289.4L1450.7 310.2L1438.6 312.7ZM1353.9 329.5L1366.0 327.1L1366.5 331.9L1354.2 331.9ZM1366.5 331.9L1378.8 331.9L1378.1 339.1L1366.0 336.7ZM1403.5 331.9L1415.8 331.9L1414.4 346.3L1402.3 343.9ZM1428.2 331.9L1440.5 331.9L1438.6 351.1L1426.5 348.7ZM1462.8 356.0L1474.9 358.4L1467.2 383.8L1455.8 379.1ZM1474.9 358.4L1487.0 360.8L1478.5 388.5L1467.2 383.8ZM1353.2 336.6L1364.6 341.3L1362.3 345.6L1352.1 338.8ZM1364.6 341.3L1376.0 346.1L1372.6 352.5L1362.3 345.6ZM1352.1 338.8L1362.3 345.6L1359.3 349.3L1350.5 340.6ZM1362.3 345.6L1372.6 352.5L1368.0 358.1L1359.3 349.3ZM1437.7 475.4L1444.6 485.7L1412.6 502.8L1407.9 491.4ZM1346.5 343.3L1351.3 354.7L1346.6 356.1L1344.2 344.0ZM1360.7 377.5L1365.4 388.9L1353.9 392.4L1351.5 380.3ZM1398.5 468.6L1403.2 480.0L1373.1 489.1L1370.7 477.0ZM1349.0 368.2L1351.5 380.3L1341.8 381.2L1341.8 368.9ZM1353.9 392.4L1356.3 404.5L1341.8 405.9L1341.8 393.6ZM1363.5 440.8L1365.9 452.8L1341.8 455.2L1341.8 442.9ZM1370.7 477.0L1373.1 489.1L1341.8 492.2L1341.8 479.9ZM1341.8 356.6L1341.8 368.9L1334.6 368.2L1337.0 356.1ZM1341.8 381.2L1341.8 393.6L1329.8 392.4L1332.2 380.3ZM1341.8 418.2L1341.8 430.6L1322.6 428.7L1325.0 416.6ZM1341.8 430.6L1341.8 442.9L1320.2 440.8L1322.6 428.7ZM1339.4 344.0L1337.0 356.1L1332.4 354.7L1337.1 343.3ZM1334.6 368.2L1332.2 380.3L1323.0 377.5L1327.7 366.1ZM1332.2 380.3L1329.8 392.4L1318.2 388.9L1323.0 377.5ZM1320.2 440.8L1317.8 452.8L1294.6 445.8L1299.4 434.4ZM1337.1 343.3L1335.0 342.2L1341.8 331.9ZM1337.1 343.3L1332.4 354.7L1328.1 352.4L1335.0 342.2ZM1332.4 354.7L1327.7 366.1L1321.3 362.7L1328.1 352.4ZM1313.5 400.3L1308.8 411.7L1293.9 403.7L1300.7 393.4ZM1300.7 393.4L1293.9 403.7L1280.8 392.9L1289.5 384.2ZM1333.1 340.6L1324.4 349.3L1321.3 345.6L1331.6 338.8ZM1298.2 375.5L1289.5 384.2L1280.3 373.0L1290.6 366.2ZM1300.8 359.3L1290.6 366.2L1284.9 355.5L1296.3 350.8ZM1307.7 346.1L1296.3 350.8L1293.5 341.5L1305.5 339.1ZM1281.4 343.9L1269.3 346.3L1267.8 331.9L1280.2 331.9ZM1269.3 346.3L1257.2 348.7L1255.5 331.9L1267.8 331.9ZM1257.2 348.7L1245.1 351.1L1243.2 331.9L1255.5 331.9ZM1329.5 331.9L1329.7 329.5L1341.8 331.9ZM1255.5 331.9L1243.2 331.9L1245.1 312.7L1257.2 315.1ZM1329.7 329.5L1317.6 327.1L1319.0 322.5L1330.4 327.2ZM1330.4 327.2L1319.0 322.5L1321.3 318.2L1331.6 325.0ZM1319.0 322.5L1307.7 317.7L1311.1 311.3L1321.3 318.2ZM1273.5 303.6L1262.1 298.9L1270.1 283.9L1280.3 290.8ZM1280.3 290.8L1270.1 283.9L1280.8 270.9L1289.5 279.6ZM1313.5 263.5L1308.8 252.1L1325.0 247.2L1327.4 259.3Z"/>
<path fill="#bfb88d" d="M1341.8 307.2L1341.8 294.9L1349.0 295.6L1346.6 307.7ZM1362.4 301.1L1369.2 290.9L1376.7 297.0L1368.0 305.7ZM1368.0 305.7L1376.7 297.0L1382.8 304.5L1372.6 311.3ZM1429.0 244.7L1437.7 236.0L1454.6 256.5L1444.4 263.4ZM1403.3 290.8L1413.6 283.9L1421.6 298.9L1410.2 303.6ZM1387.4 313.0L1398.8 308.3L1402.3 319.9L1390.2 322.3ZM1444.4 289.4L1455.8 284.7L1462.8 307.8L1450.7 310.2ZM1353.9 329.5L1354.2 331.9L1341.8 331.9ZM1438.6 312.7L1450.7 310.2L1452.8 331.9L1440.5 331.9ZM1354.2 331.9L1366.5 331.9L1366.0 336.7L1353.9 334.3ZM1378.8 331.9L1391.2 331.9L1390.2 341.5L1378.1 339.1ZM1440.5 331.9L1452.8 331.9L1450.7 353.6L1438.6 351.1ZM1366.0 336.7L1378.1 339.1L1376.0 346.1L1364.6 341.3ZM1378.1 339.1L1390.2 341.5L1387.4 350.8L1376.0 346.1ZM1523.2 368.0L1535.3 370.4L1524.1 407.4L1512.7 402.7ZM1467.2 383.8L1478.5 388.5L1464.9 414.1L1454.6 407.3ZM1372.6 352.5L1382.8 359.3L1376.7 366.8L1368.0 358.1ZM1464.9 414.1L1475.1 421.0L1455.2 445.3L1446.5 436.5ZM1368.0 358.1L1376.7 366.8L1369.2 372.9L1362.4 362.7ZM1355.5 352.4L1362.4 362.7L1356.0 366.1L1351.3 354.7ZM1379.6 423.0L1384.3 434.4L1363.5 440.8L1361.1 428.7ZM1389.0 445.8L1393.7 457.2L1368.3 464.9L1365.9 452.8ZM1356.3 404.5L1358.7 416.6L1341.8 418.2L1341.8 405.9ZM1361.1 428.7L1363.5 440.8L1341.8 442.9L1341.8 430.6ZM1341.8 442.9L1341.8 455.2L1317.8 452.8L1320.2 440.8ZM1317.8 452.8L1315.4 464.9L1289.9 457.2L1294.6 445.8ZM1304.1 423.0L1299.4 434.4L1280.2 424.2L1287.0 413.9ZM1324.4 349.3L1315.7 358.1L1311.1 352.5L1321.3 345.6ZM1315.7 358.1L1307.0 366.8L1300.8 359.3L1311.1 352.5ZM1272.1 401.7L1263.4 410.4L1249.6 393.6L1259.8 386.7ZM1293.5 341.5L1281.4 343.9L1280.2 331.9L1292.5 331.9ZM1317.2 331.9L1304.8 331.9L1305.5 324.7L1317.6 327.1ZM1304.8 331.9L1292.5 331.9L1293.5 322.3L1305.5 324.7ZM1267.8 331.9L1255.5 331.9L1257.2 315.1L1269.3 317.5ZM1317.6 327.1L1305.5 324.7L1307.7 317.7L1319.0 322.5ZM1281.4 319.9L1269.3 317.5L1273.5 303.6L1284.9 308.3ZM1262.1 298.9L1250.7 294.1L1259.8 277.1L1270.1 283.9ZM1315.7 305.7L1307.0 297.0L1314.4 290.9L1321.3 301.1ZM1332.4 309.1L1327.7 297.7L1334.6 295.6L1337.0 307.7Z"/>
<path fill="#9cac81" d="M1402.9 270.9L1411.6 262.1L1423.9 277.1L1413.6 283.9ZM1372.6 311.3L1382.8 304.5L1387.4 313.0L1376.0 317.7ZM1414.4 317.5L1426.5 315.1L1428.2 331.9L1415.8 331.9ZM1391.2 331.9L1403.5 331.9L1402.3 343.9L1390.2 341.5ZM1452.8 331.9L1465.1 331.9L1462.8 356.0L1450.7 353.6ZM1390.2 341.5L1402.3 343.9L1398.8 355.5L1387.4 350.8ZM1402.3 343.9L1414.4 346.3L1410.2 360.2L1398.8 355.5ZM1398.8 355.5L1410.2 360.2L1403.3 373.0L1393.1 366.2ZM1454.6 407.3L1464.9 414.1L1446.5 436.5L1437.7 427.8ZM1362.4 362.7L1369.2 372.9L1360.7 377.5L1356.0 366.1ZM1369.2 372.9L1376.1 383.2L1365.4 388.9L1360.7 377.5ZM1396.6 413.9L1403.5 424.2L1384.3 434.4L1379.6 423.0ZM1410.3 434.4L1417.2 444.7L1393.7 457.2L1389.0 445.8ZM1417.2 444.7L1424.0 454.9L1398.5 468.6L1393.7 457.2ZM1365.4 388.9L1370.1 400.3L1356.3 404.5L1353.9 392.4ZM1370.1 400.3L1374.9 411.7L1358.7 416.6L1356.3 404.5ZM1351.5 380.3L1353.9 392.4L1341.8 393.6L1341.8 381.2ZM1341.8 368.9L1341.8 381.2L1332.2 380.3L1334.6 368.2ZM1337.0 356.1L1334.6 368.2L1327.7 366.1L1332.4 354.7ZM1327.4 404.5L1325.0 416.6L1308.8 411.7L1313.5 400.3ZM1287.0 413.9L1280.2 424.2L1263.4 410.4L1272.1 401.7ZM1289.5 384.2L1280.8 392.9L1270.1 379.9L1280.3 373.0ZM1257.2 315.1L1245.1 312.7L1250.7 294.1L1262.1 298.9Z"/>
<path fill="#79a57a" d="M1378.1 324.7L1390.2 322.3L1391.2 331.9L1378.8 331.9ZM1402.3 319.9L1414.4 317.5L1415.8 331.9L1403.5 331.9ZM1450.7 353.6L1462.8 356.0L1455.8 379.1L1444.4 374.4ZM1433.0 369.7L1444.4 374.4L1434.1 393.6L1423.9 386.7ZM1455.8 379.1L1467.2 383.8L1454.6 407.3L1444.4 400.4ZM1359.3 349.3L1368.0 358.1L1362.4 362.7L1355.5 352.4ZM1429.0 419.1L1437.7 427.8L1417.2 444.7L1410.3 434.4ZM1351.3 354.7L1356.0 366.1L1349.0 368.2L1346.6 356.1ZM1384.3 434.4L1389.0 445.8L1365.9 452.8L1363.5 440.8ZM1346.6 356.1L1349.0 368.2L1341.8 368.9L1341.8 356.6ZM1328.1 352.4L1321.3 362.7L1315.7 358.1L1324.4 349.3ZM1321.3 362.7L1314.4 372.9L1307.0 366.8L1315.7 358.1ZM1293.9 403.7L1287.0 413.9L1272.1 401.7L1280.8 392.9ZM1305.5 339.1L1293.5 341.5L1292.5 331.9L1304.8 331.9ZM1305.5 324.7L1293.5 322.3L1296.3 313.0L1307.7 317.7ZM1293.5 322.3L1281.4 319.9L1284.9 308.3L1296.3 313.0ZM1269.3 317.5L1257.2 315.1L1262.1 298.9L1273.5 303.6Z"/>
<path fill="#549674" d="M1359.3 314.5L1368.0 305.7L1372.6 311.3L1362.3 318.2ZM1426.5 315.1L1438.6 312.7L1440.5 331.9L1428.2 331.9ZM1426.5 348.7L1438.6 351.1L1433.0 369.7L1421.6 364.9ZM1410.2 360.2L1421.6 364.9L1413.6 379.9L1403.3 373.0ZM1382.8 359.3L1393.1 366.2L1385.4 375.5L1376.7 366.8ZM1376.7 366.8L1385.4 375.5L1376.1 383.2L1369.2 372.9ZM1385.4 375.5L1394.1 384.2L1382.9 393.4L1376.1 383.2ZM1376.1 383.2L1382.9 393.4L1370.1 400.3L1365.4 388.9ZM1389.8 403.7L1396.6 413.9L1379.6 423.0L1374.9 411.7ZM1356.0 366.1L1360.7 377.5L1351.5 380.3L1349.0 368.2ZM1311.1 352.5L1300.8 359.3L1296.3 350.8L1307.7 346.1ZM1280.2 331.9L1267.8 331.9L1269.3 317.5L1281.4 319.9Z"/>
<path fill="#2a8b74" d="M1438.6 351.1L1450.7 353.6L1444.4 374.4L1433.0 369.7ZM1444.4 400.4L1454.6 407.3L1437.7 427.8L1429.0 419.1ZM1411.6 401.7L1420.3 410.4L1403.5 424.2L1396.6 413.9ZM1420.3 410.4L1429.0 419.1L1410.3 434.4L1403.5 424.2ZM1374.9 411.7L1379.6 423.0L1361.1 428.7L1358.7 416.6Z"/>
<path fill="#057871" d="M1444.4 374.4L1455.8 379.1L1444.4 400.4L1434.1 393.6ZM1434.1 393.6L1444.4 400.4L1429.0 419.1L1420.3 410.4ZM1382.9 393.4L1389.8 403.7L1374.9 411.7L1370.1 400.3Z"/>
<path fill="#0a656e" d="M1415.8 331.9L1428.2 331.9L1426.5 348.7L1414.4 346.3Z"/>
<path fill="#1b5468" d="M1414.4 346.3L1426.5 348.7L1421.6 364.9L1410.2 360.2ZM1393.1 366.2L1403.3 373.0L1394.1 384.2L1385.4 375.5ZM1413.6 379.9L1423.9 386.7L1411.6 401.7L1402.9 392.9ZM1402.9 392.9L1411.6 401.7L1396.6 413.9L1389.8 403.7Z"/>
<path fill="#26425c" d="M1421.6 364.9L1433.0 369.7L1423.9 386.7L1413.6 379.9ZM1423.9 386.7L1434.1 393.6L1420.3 410.4L1411.6 401.7ZM1394.1 384.2L1402.9 392.9L1389.8 403.7L1382.9 393.4Z"/>
<path fill="#282e4b" d="M1387.4 350.8L1398.8 355.5L1393.1 366.2L1382.8 359.3ZM1403.3 373.0L1413.6 379.9L1402.9 392.9L1394.1 384.2Z"/>
</g>
<g stroke="#b0b0b0" stroke-width="1.1" fill="none">
<circle cx="1341.8" cy="331.9" r="53.29"/>
<circle cx="1341.8" cy="331.9" r="106.58"/>
<circle cx="1341.8" cy="331.9" r="159.88"/>
<circle cx="1341.8" cy="331.9" r="213.17"/>
<path d="M1341.8 331.9L1507.5 166.2"/>
<path d="M1341.8 331.9L1507.5 497.6"/>
<path d="M1341.8 331.9L1176.2 497.6"/>
<path d="M1341.8 331.9L1176.2 166.2"/>
<path d="M1342.5 97.6V566.2M1107.5 332.5H1576.1"/>
</g>
<circle cx="1341.8" cy="331.9" r="234.3" fill="none" stroke="#000" stroke-width="1.1"/>
<rect x="1575.3" y="331.3" width="1.6" height="1.2" fill="#000"/>
<text transform="translate(739.51 32.00) scale(1.0654 1)" font-size="29.44">Mar 2008</text>
<text transform="translate(236.49 60.80) scale(0.9647 1)" font-size="25.02">CIOFS</text>
<text transform="translate(758.72 60.80) scale(1.0075 1)" font-size="25.02">NWGOA</text>
<text transform="translate(1250.55 60.80) scale(0.9959 1)" font-size="25.02">CIOFS-NWGOA</text>
<text transform="translate(266.91 83.90) scale(1.0546 1)" font-size="19.39">N</text>
<text transform="translate(268.19 591.70) scale(0.9287 1)" font-size="19.39">S</text>
<text transform="translate(522.17 338.00) scale(0.8936 1)" font-size="19.39">E</text>
<text transform="translate(12.21 338.00) scale(0.9597 1)" font-size="19.39">W</text>
<text transform="translate(322.90 307.90) scale(1.1026 1)" font-size="19.39">0.2</text>
<text transform="translate(372.11 287.50) scale(1.0859 1)" font-size="19.39">0.4</text>
<text transform="translate(421.30 267.10) scale(1.0984 1)" font-size="19.39">0.6</text>
<text transform="translate(470.50 246.70) scale(1.0984 1)" font-size="19.39">0.8</text>
<text transform="translate(801.09 83.90) scale(1.0546 1)" font-size="19.39">N</text>
<text transform="translate(802.37 591.70) scale(0.9287 1)" font-size="19.39">S</text>
<text transform="translate(1056.35 338.00) scale(0.8936 1)" font-size="19.39">E</text>
<text transform="translate(546.39 338.00) scale(0.9597 1)" font-size="19.39">W</text>
<text transform="translate(857.08 307.90) scale(1.1026 1)" font-size="19.39">0.2</text>
<text transform="translate(906.29 287.50) scale(1.0859 1)" font-size="19.39">0.4</text>
<text transform="translate(955.48 267.10) scale(1.0984 1)" font-size="19.39">0.6</text>
<text transform="translate(1004.68 246.70) scale(1.0984 1)" font-size="19.39">0.8</text>
<text transform="translate(1335.27 83.90) scale(1.0546 1)" font-size="19.39">N</text>
<text transform="translate(1336.55 591.70) scale(0.9287 1)" font-size="19.39">S</text>
<text transform="translate(1590.53 338.00) scale(0.8936 1)" font-size="19.39">E</text>
<text transform="translate(1080.57 338.00) scale(0.9597 1)" font-size="19.39">W</text>
<text transform="translate(1391.26 307.90) scale(1.1026 1)" font-size="19.39">0.2</text>
<text transform="translate(1440.47 287.50) scale(1.0859 1)" font-size="19.39">0.4</text>
<text transform="translate(1489.66 267.10) scale(1.0984 1)" font-size="19.39">0.6</text>
<text transform="translate(1538.86 246.70) scale(1.0984 1)" font-size="19.39">0.8</text>
<linearGradient id="cb" x1="0" x2="1" y1="0" y2="0"><stop offset="0.0000" stop-color="#eeedf3"/><stop offset="0.0769" stop-color="#e3dbd5"/><stop offset="0.1538" stop-color="#d7c4ab"/><stop offset="0.2308" stop-color="#bfb88d"/><stop offset="0.3077" stop-color="#9cac81"/><stop offset="0.3846" stop-color="#79a57a"/><stop offset="0.4615" stop-color="#549674"/><stop offset="0.5385" stop-color="#2a8b74"/><stop offset="0.6154" stop-color="#057871"/><stop offset="0.6923" stop-color="#0a656e"/><stop offset="0.7692" stop-color="#1b5468"/><stop offset="0.8462" stop-color="#26425c"/><stop offset="0.9231" stop-color="#282e4b"/><stop offset="1.0000" stop-color="#221835"/></linearGradient>
<rect x="406.7" y="605.6" width="799.8" height="29.8" fill="url(#cb)" stroke="#000" stroke-width="1.1"/>
<path d="M406.7 635.4V656.4" stroke="#000" stroke-width="1.1"/>
<text transform="translate(399.29 681.30) scale(1.0884 1)" font-size="23.54">0</text>
<path d="M529.7 635.4V656.4" stroke="#000" stroke-width="1.1"/>
<text transform="translate(521.95 681.30) scale(1.1419 1)" font-size="23.54">2</text>
<path d="M652.8 635.4V656.4" stroke="#000" stroke-width="1.1"/>
<text transform="translate(645.79 681.30) scale(1.0345 1)" font-size="23.54">4</text>
<path d="M775.8 635.4V656.4" stroke="#000" stroke-width="1.1"/>
<text transform="translate(768.06 681.30) scale(1.1296 1)" font-size="23.54">6</text>
<path d="M898.9 635.4V656.4" stroke="#000" stroke-width="1.1"/>
<text transform="translate(891.32 681.30) scale(1.1115 1)" font-size="23.54">8</text>
<path d="M1021.9 635.4V656.4" stroke="#000" stroke-width="1.1"/>
<text transform="translate(1008.11 681.30) scale(1.0006 1)" font-size="23.54">10</text>
<path d="M1145.0 635.4V656.4" stroke="#000" stroke-width="1.1"/>
<text transform="translate(1131.14 681.30) scale(1.0108 1)" font-size="23.54">12</text>
<text transform="translate(522.44 709.30) scale(1.0691 1)" font-size="23.54">Currents [m/s] at COI1203; number of occurrences</text>
</svg></body></html>
